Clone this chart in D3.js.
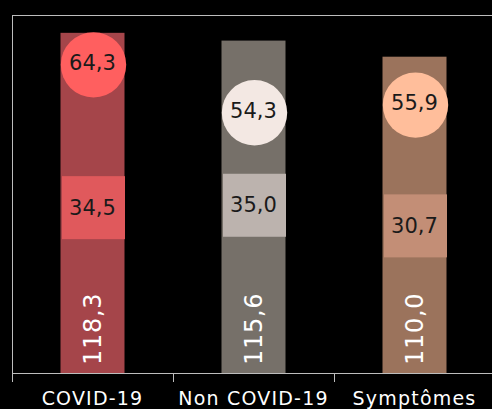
<!DOCTYPE html>
<html>
<head>
<meta charset="utf-8">
<script src="https://cdn.jsdelivr.net/npm/d3@7"></script>
<style>
  body { margin: 0; background: #000; }
  text { font-family: "DejaVu Sans", sans-serif; }
</style>
</head>
<body>
<div class="canvas"></div>
<script>
// data
const categories = ['COVID-19', 'Non COVID-19', 'Symptômes'];
const barValues = [118.3, 115.6, 110.0];
const squareValues = [34.5, 35.0, 30.7];
const circleValues = [64.3, 54.3, 55.9];

const barColors = ['#a5454a', '#767069', '#9b735c'];
const squareColors = ['#e0595c', '#bcb3ae', '#c38e76'];
const circleColors = ['#ff5f5f', '#f3e8e3', '#ffbe9b'];

const fmt = v => v.toFixed(1).replace('.', ',');

const width = 492, height = 409;
const margin = {top: 15, left: 12, bottom: 36};
const bandW = 161;
const baseY = height - margin.bottom;

const svg = d3.select('.canvas')
    .append('svg')
        .attr('width', width)
        .attr('height', height)
        .style('display', 'block')
        .style('background', '#000');

const x = d3.scaleBand()
    .domain(categories)
    .range([margin.left, margin.left + bandW * categories.length])
    .padding(0);

// main axis for bars, second axis for circles and squares (dual axis)
const y = d3.scaleLinear()
    .domain([0, 124.5])
    .range([baseY, margin.top]);

const y2 = d3.scaleLinear()
    .domain([0, 74.7])
    .range([baseY, margin.top]);

const data = categories.map((c, i) => ({
    cat: c, bar: barValues[i], sq: squareValues[i], circ: circleValues[i], i
}));

const barW = 64, sqSize = 63, r = 32.7;
const cx = d => x(d.cat) + x.bandwidth() / 2;

// frame lines
const lineCol = '#bdbdbd';
svg.append('line')
    .attr('x1', margin.left).attr('x2', width)
    .attr('y1', margin.top + 0.5).attr('y2', margin.top + 0.5)
    .attr('stroke', lineCol);
svg.append('line')
    .attr('x1', margin.left + 0.5).attr('x2', margin.left + 0.5)
    .attr('y1', margin.top).attr('y2', baseY + 9)
    .attr('stroke', lineCol);

// bars
svg.selectAll('rect.bar')
    .data(data)
    .enter()
    .append('rect')
        .attr('class', 'bar')
        .attr('x', d => cx(d) - barW / 2)
        .attr('width', barW)
        .attr('y', d => y(d.bar))
        .attr('height', d => y(0) - y(d.bar))
        .attr('fill', d => barColors[d.i]);

// squares
svg.selectAll('rect.sq')
    .data(data)
    .enter()
    .append('rect')
        .attr('class', 'sq')
        .attr('x', d => cx(d) + 1 - sqSize / 2)
        .attr('width', sqSize)
        .attr('y', d => y2(d.sq) - sqSize / 2)
        .attr('height', sqSize)
        .attr('fill', d => squareColors[d.i]);

// circles
svg.selectAll('circle')
    .data(data)
    .enter()
    .append('circle')
        .attr('cx', d => cx(d) + 1)
        .attr('cy', d => y2(d.circ))
        .attr('r', r)
        .attr('fill', d => circleColors[d.i]);

// labels in squares and circles
svg.selectAll('text.sqlab')
    .data(data)
    .enter()
    .append('text')
        .attr('x', d => cx(d))
        .attr('y', d => y2(d.sq))
        .attr('dy', '0.33em')
        .attr('text-anchor', 'middle')
        .attr('font-size', 21)
        .attr('fill', '#1a1a1a')
        .text(d => fmt(d.sq));

svg.selectAll('text.circlab')
    .data(data)
    .enter()
    .append('text')
        .attr('x', d => cx(d))
        .attr('y', d => y2(d.circ))
        .attr('dy', '0.25em')
        .attr('text-anchor', 'middle')
        .attr('font-size', 21)
        .attr('fill', '#1a1a1a')
        .text(d => fmt(d.circ));

// rotated bar labels
svg.selectAll('text.barlab')
    .data(data)
    .enter()
    .append('text')
        .attr('transform', d => `translate(${cx(d)},${baseY - 8}) rotate(-90)`)
        .attr('dy', '0.35em')
        .attr('font-size', 24)
        .attr('letter-spacing', 0.7)
        .attr('fill', '#fff')
        .text(d => fmt(d.bar));

// bottom axis: labels centred, ticks at band edges
const xAxisGroup = svg.append('g')
    .attr('transform', `translate(0,${baseY})`);
xAxisGroup.call(d3.axisBottom(x).tickSize(0).tickPadding(19));
xAxisGroup.select('.domain').remove();
xAxisGroup.selectAll('text')
    .attr('font-size', 19)
    .attr('letter-spacing', 1.2)
    .attr('fill', '#fff')
    .attr('font-family', '"DejaVu Sans", sans-serif');

xAxisGroup.append('line')
    .attr('x1', margin.left).attr('x2', width)
    .attr('y1', 0.5).attr('y2', 0.5)
    .attr('stroke', lineCol);
xAxisGroup.selectAll('line.sep')
    .data(categories)
    .enter()
    .append('line')
        .attr('class', 'sep')
        .attr('x1', d => x(d) + 0.5).attr('x2', d => x(d) + 0.5)
        .attr('y1', 0).attr('y2', 9)
        .attr('stroke', lineCol);
</script>
</body>
</html>
